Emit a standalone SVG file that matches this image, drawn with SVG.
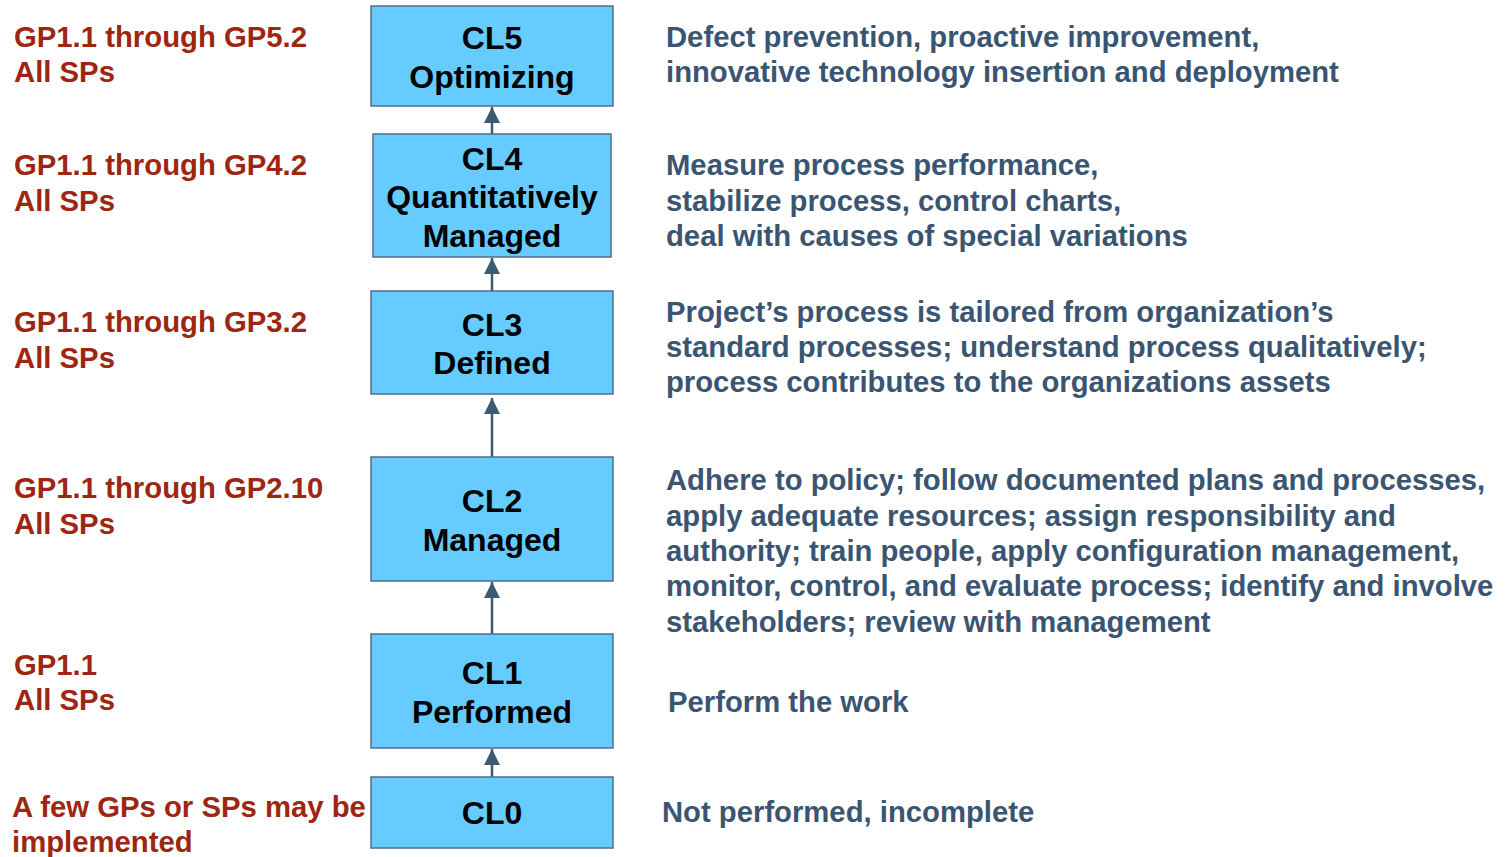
<svg xmlns="http://www.w3.org/2000/svg" width="1510" height="857" viewBox="0 0 1510 857">
<style>
text{font-family:"Liberation Sans",Arial,sans-serif;font-weight:bold}
.box{fill:#66ccff;stroke:#4f6e8a;stroke-width:1.5}
.bt{font-size:32px;fill:#000;text-anchor:middle}
.lt{font-size:29.3px;fill:#9e2510}
.rt{font-size:29.25px;fill:#3a5571}
.conn{stroke:#3d5a73;stroke-width:2.5;fill:none}
</style>
<defs>
<marker id="ah" markerUnits="userSpaceOnUse" markerWidth="18" markerHeight="18" refX="16" refY="8" orient="auto">
<path d="M0,0 L16,8 L0,16 Z" fill="#3d5a73"/>
</marker>
</defs>
<rect width="1510" height="857" fill="#fff"/>
<g id="connectors">
<line class="conn" x1="492" y1="134" x2="492" y2="107" marker-end="url(#ah)"/>
<line class="conn" x1="492" y1="291" x2="492" y2="258" marker-end="url(#ah)"/>
<line class="conn" x1="492" y1="457" x2="492" y2="398" marker-end="url(#ah)"/>
<line class="conn" x1="492" y1="634" x2="492" y2="582" marker-end="url(#ah)"/>
<line class="conn" x1="492" y1="777" x2="492" y2="749" marker-end="url(#ah)"/>
</g>
<g id="cl5">
<rect class="box" x="371" y="6" width="242" height="100"/>
<text class="bt" x="492" y="49">CL5</text>
<text class="bt" x="492" y="88">Optimizing</text>
</g>
<g id="cl4">
<rect class="box" x="373" y="134" width="238" height="123"/>
<text class="bt" x="492" y="170">CL4</text>
<text class="bt" x="492" y="208">Quantitatively</text>
<text class="bt" x="492" y="247">Managed</text>
</g>
<g id="cl3">
<rect class="box" x="371" y="291" width="242" height="103"/>
<text class="bt" x="492" y="336">CL3</text>
<text class="bt" x="492" y="374">Defined</text>
</g>
<g id="cl2">
<rect class="box" x="371" y="457" width="242" height="124"/>
<text class="bt" x="492" y="512">CL2</text>
<text class="bt" x="492" y="551">Managed</text>
</g>
<g id="cl1">
<rect class="box" x="371" y="634" width="242" height="114"/>
<text class="bt" x="492" y="684">CL1</text>
<text class="bt" x="492" y="723">Performed</text>
</g>
<g id="cl0">
<rect class="box" x="371" y="777" width="242" height="71"/>
<text class="bt" x="492" y="824">CL0</text>
</g>
<g id="left-labels">
<text class="lt" x="14" y="47">GP1.1 through GP5.2</text>
<text class="lt" x="14" y="82">All SPs</text>
<text class="lt" x="14" y="175">GP1.1 through GP4.2</text>
<text class="lt" x="14" y="211">All SPs</text>
<text class="lt" x="14" y="332">GP1.1 through GP3.2</text>
<text class="lt" x="14" y="368">All SPs</text>
<text class="lt" x="14" y="498">GP1.1 through GP2.10</text>
<text class="lt" x="14" y="534">All SPs</text>
<text class="lt" x="14" y="675">GP1.1</text>
<text class="lt" x="14" y="710">All SPs</text>
<text class="lt" x="12" y="817">A few GPs or SPs may be</text>
<text class="lt" x="12" y="852">implemented</text>
</g>
<g id="right-labels">
<text class="rt" x="666" y="47">Defect prevention, proactive improvement,</text>
<text class="rt" x="666" y="82">innovative technology insertion and deployment</text>
<text class="rt" x="666" y="175">Measure process performance,</text>
<text class="rt" x="666" y="211">stabilize process, control charts,</text>
<text class="rt" x="666" y="246">deal with causes of special variations</text>
<text class="rt" x="666" y="322">Project’s process is tailored from organization’s</text>
<text class="rt" x="666" y="357">standard processes; understand process qualitatively;</text>
<text class="rt" x="666" y="392">process contributes to the organizations assets</text>
<text class="rt" x="666" y="490">Adhere to policy; follow documented plans and processes,</text>
<text class="rt" x="666" y="526">apply adequate resources; assign responsibility and</text>
<text class="rt" x="666" y="561">authority; train people, apply configuration management,</text>
<text class="rt" x="666" y="596">monitor, control, and evaluate process; identify and involve</text>
<text class="rt" x="666" y="632">stakeholders; review with management</text>
<text class="rt" x="668" y="712">Perform the work</text>
<text class="rt" x="662" y="822">Not performed, incomplete</text>
</g>
</svg>
